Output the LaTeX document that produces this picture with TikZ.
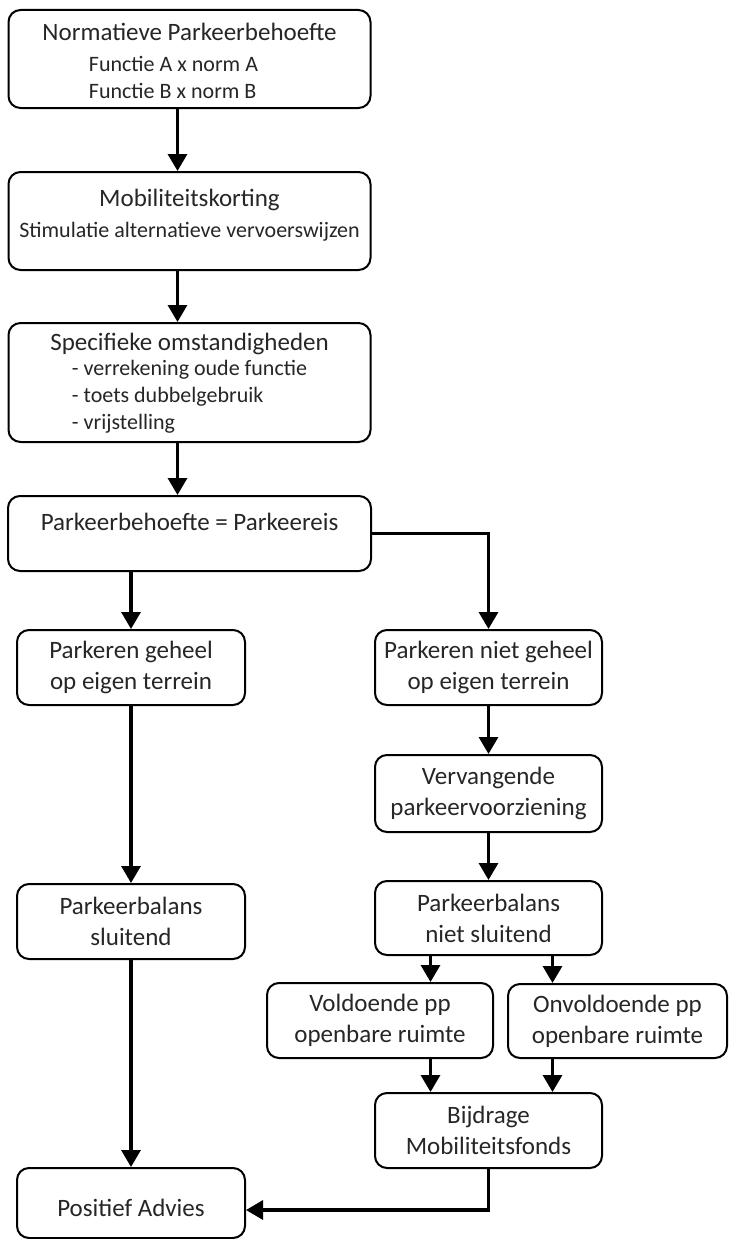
\documentclass[tikz,border=0pt]{standalone}
\usepackage{fontspec}
\setmainfont{Carlito}
\usetikzlibrary{positioning}
\usetikzlibrary{arrows.meta}

% tekst iets omhoog zonder de knoop te veranderen
\newcommand{\hoog}[2][9pt]{\raisebox{#1}[\height][\depth]{#2}}

\begin{document}
\begin{tikzpicture}[x=1pt,y=-1pt,
  blok/.style={draw,line width=2pt,rounded corners=12pt,align=center,inner sep=2pt,text=black!85,font=\labfont},
  pijl/.style={line width=3.2pt,-{Triangle[length=17pt,width=19pt]}}]

\def\labfont{\fontsize{25}{31}\selectfont}
\def\subfont{\fontsize{22}{27}\selectfont}

\useasboundingbox (0,0) rectangle (728,1239);

\node[blok,minimum width=362pt,minimum height=98pt](norm) at (189.5,59)
  {\hoog[-6pt]{Normatieve Parkeerbehoefte}\\\hoog[-6pt]{\subfont\begin{tabular}[t]{@{}l@{\hspace{32pt}}}Functie A x norm A\\Functie B x norm B\end{tabular}}};
\node[blok,minimum width=362pt,minimum height=98pt,below=62pt of norm](korting)
  {\hoog[6pt]{Mobiliteitskorting}\\\hoog[6pt]{\subfont Stimulatie alternatieve vervoerswijzen}};
\node[blok,minimum width=362pt,minimum height=119pt,below=51pt of korting](omst)
  {\hoog[-6pt]{Specifieke omstandigheden}\\{\subfont\begin{tabular}[t]{@{}l@{}}- verrekening oude functie\\- toets dubbelgebruik\\- vrijstelling\end{tabular}}};
\node[blok,minimum width=363pt,minimum height=75pt,below=52pt of omst](eis) {\hoog[12pt]{Parkeerbehoefte = Parkeereis}};

\node[blok,minimum width=228pt,minimum height=75pt](geheel) at (131,667.5) {Parkeren geheel\\op eigen terrein};
\node[blok,minimum width=227pt,minimum height=75pt](nietgeheel) at (488.5,667.5) {Parkeren niet geheel\\op eigen terrein};
\node[blok,minimum width=227pt,minimum height=77pt,below=48pt of nietgeheel](vervang) {Vervangende\\parkeervoorziening};
\node[blok,minimum width=227pt,minimum height=74pt,below=47pt of vervang](nietsluit) {Parkeerbalans\\niet sluitend};
\node[blok,minimum width=228pt,minimum height=75pt](sluit) at (131,921.5) {Parkeerbalans\\sluitend};

\node[blok,minimum width=226pt,minimum height=75pt](vold) at (380,1020.5) {Voldoende pp\\openbare ruimte};
\node[blok,minimum width=219pt,minimum height=74pt](onvold) at (617.5,1021) {Onvoldoende pp\\openbare ruimte};
\node[blok,minimum width=227pt,minimum height=75pt](bijdrage) at (488.5,1130.5) {Bijdrage\\Mobiliteitsfonds};
\node[blok,minimum width=228pt,minimum height=70pt](positief) at (131,1203) {\hoog[-5pt]{Positief Advies}};

\draw[pijl] ([xshift=-12pt]norm.south) -- ([xshift=-12pt]korting.north);
\draw[pijl] ([xshift=-12pt]korting.south) -- ([xshift=-12pt]omst.north);
\draw[pijl] ([xshift=-12pt]omst.south) -- ([xshift=-12pt]eis.north);
\draw[pijl] (eis.south -| geheel.north) -- (geheel.north);
\draw[pijl] (eis.east) -| (nietgeheel.north);
\draw[pijl] (nietgeheel.south) -- (vervang.north);
\draw[pijl] (vervang.south) -- (nietsluit.north);
\draw[pijl] (geheel.south) -- (sluit.north);
\draw[pijl] (sluit.south) -- (positief.north);
\draw[pijl] ([xshift=-58pt]nietsluit.south) -- ([xshift=-58pt]nietsluit.south |- vold.north);
\draw[pijl] ([xshift=64pt]nietsluit.south) -- ([xshift=64pt]nietsluit.south |- onvold.north);
\draw[pijl] ([xshift=-58pt]bijdrage.north |- vold.south) -- ([xshift=-58pt]bijdrage.north);
\draw[pijl] ([xshift=64pt]bijdrage.north |- onvold.south) -- ([xshift=64pt]bijdrage.north);
\draw[pijl] (bijdrage.south) |- ([yshift=-7pt]positief.east);
\end{tikzpicture}
\end{document}
